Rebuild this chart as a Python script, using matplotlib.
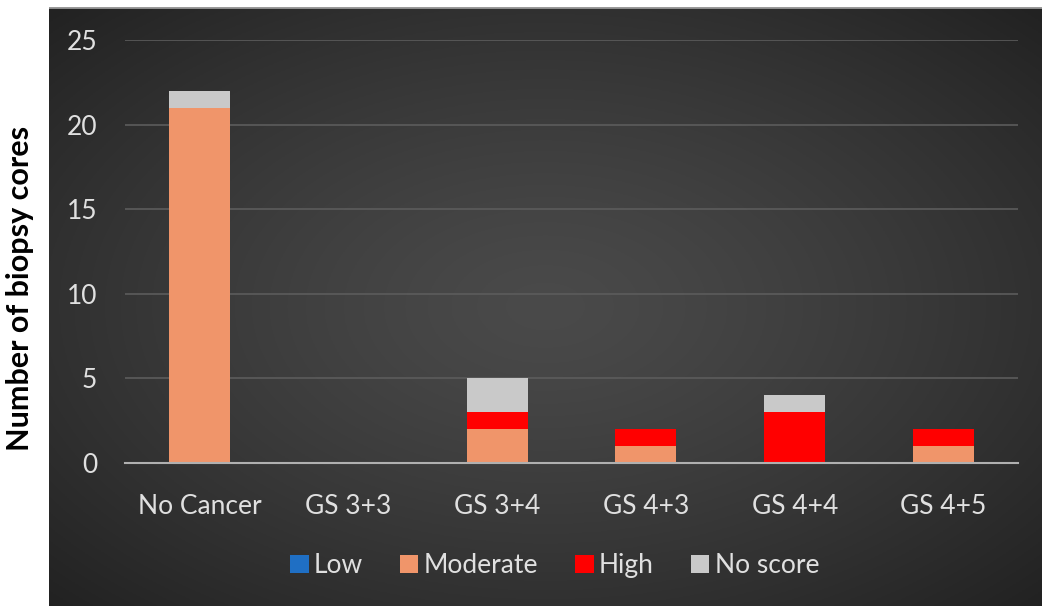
import matplotlib.pyplot as plt
import numpy as np

categories = ["No Cancer", "GS 3+3", "GS 3+4", "GS 4+3", "GS 4+4", "GS 4+5"]
low = [0, 0, 0, 0, 0, 0]
moderate = [21, 0, 2, 1, 0, 1]
high = [0, 0, 1, 1, 3, 1]
no_score = [1, 0, 2, 0, 1, 0]
series_names = ["Low", "Moderate", "High", "No score"]
series_colors = ["#1f6fc4", "#f0956a", "#ff0000", "#c9c9c9"]

plt.rcParams['font.family'] = ['Lato', 'DejaVu Sans']

W, H = 1042, 606
fig = plt.figure(figsize=(W / 100, H / 100), dpi=100)
fig.patch.set_facecolor("white")

# dark panel with a soft radial gradient
bg = fig.add_axes([49 / W, 0, 1 - 49 / W, (H - 7) / H])
bg.set_axis_off()
yy, xx = np.mgrid[0:1:300j, 0:1:500j]
r = np.sqrt(((xx - 0.5) / 0.75) ** 2 + ((yy - 0.5) / 0.75) ** 2)
shade = 0.29 - 0.17 * np.clip(r, 0, 1) ** 1.3
bg.imshow(np.dstack([shade] * 3), aspect="auto", extent=[0, 1, 0, 1])
bg.axhline(1, color="#9a9a9a", lw=2)

ax = fig.add_axes([125 / W, (H - 463) / H, (1018 - 125) / W, (463 - 40) / H])
ax.set_facecolor("none")

x = np.arange(len(categories))
bottom = np.zeros(len(categories))
for name, vals, col in zip(series_names, [low, moderate, high, no_score], series_colors):
    ax.bar(x, vals, width=0.41, bottom=bottom, color=col, label=name)
    bottom += np.array(vals)

ax.set_xlim(-0.5, len(categories) - 0.5)
ax.set_ylim(0, 25)
ax.set_yticks([0, 5, 10, 15, 20, 25])
ax.set_xticks(x)
ax.set_xticklabels(categories)
ax.tick_params(axis="both", length=0, colors="#e0e0e0", labelsize=19)
ax.tick_params(axis="y", pad=20)
ax.tick_params(axis="x", pad=22)
ax.yaxis.grid(True, color="#5c5c5c", lw=1.2)
ax.set_axisbelow(True)
for s in ["top", "right", "left"]:
    ax.spines[s].set_visible(False)
ax.spines["bottom"].set_color("#b0b0b0")
ax.spines["bottom"].set_linewidth(1.5)

fig.text(20 / W, 1 - 288 / H, "Number of biopsy cores", rotation=90,
         ha="center", va="center", fontsize=22, fontweight="bold", color="black")

leg = ax.legend(loc="center", bbox_to_anchor=(0.481, -0.243), ncol=4, frameon=False,
                fontsize=19, labelcolor="#e0e0e0", handlelength=0.7, handleheight=0.7,
                handletextpad=0.2, columnspacing=1.4)

fig.savefig("out.png", dpi=100)
